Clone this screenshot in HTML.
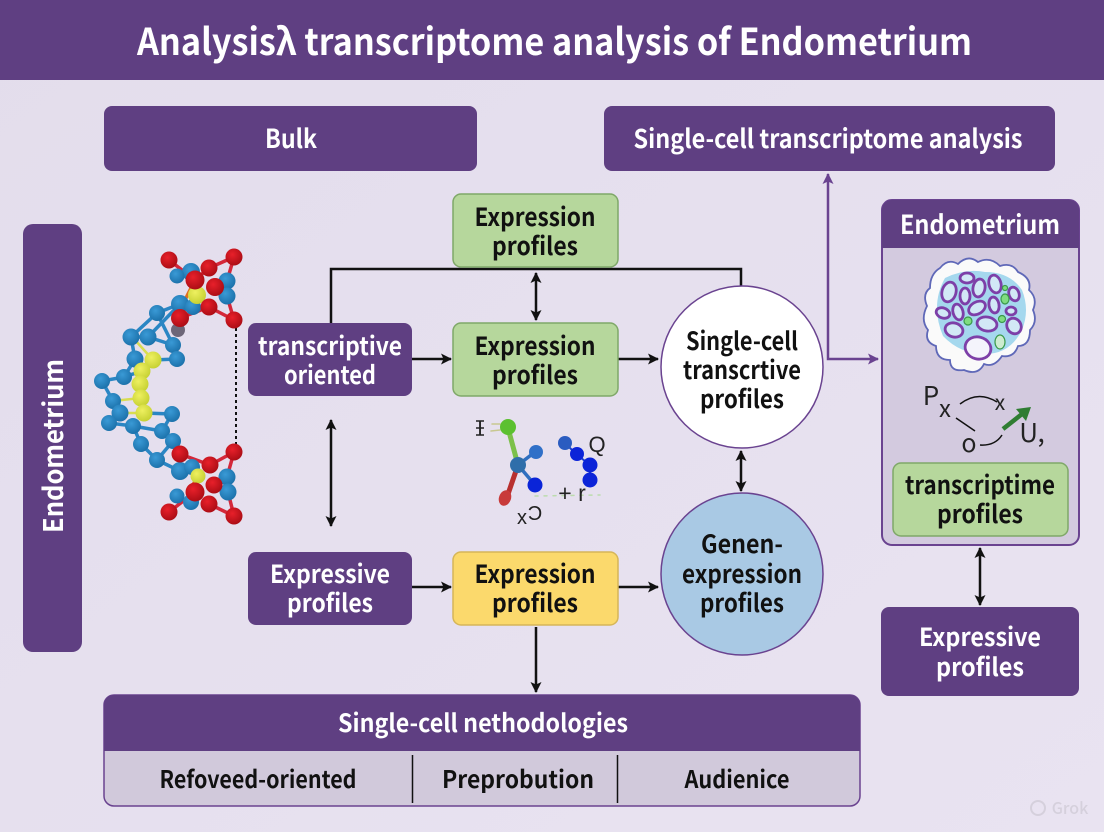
<!DOCTYPE html>
<html><head><meta charset="utf-8"><style>
html,body{margin:0;padding:0;background:#e6e0ef}
svg{display:block}
text{font-family:"Noto Sans CJK SC","Liberation Sans",sans-serif;text-anchor:middle}
.w{fill:#fff;font-weight:700}
.k{fill:#111;font-weight:700}
.p{fill:#5f3f82}
.l{fill:#222;font-family:"Liberation Sans",sans-serif}
</style></head><body>
<svg width="1104" height="832" viewBox="0 0 1104 832" xmlns="http://www.w3.org/2000/svg">
<defs>
<linearGradient id="bg" x1="0" y1="0" x2="1" y2="1"><stop offset="0" stop-color="#e3ddec"/><stop offset="1" stop-color="#e9e3f1"/></linearGradient>
<radialGradient id="r" cx=".4" cy=".35" r=".7"><stop offset="0" stop-color="#e8202a"/><stop offset="1" stop-color="#a80c14"/></radialGradient>
<radialGradient id="b" cx=".4" cy=".35" r=".7"><stop offset="0" stop-color="#3a9ad6"/><stop offset="1" stop-color="#1a6fa8"/></radialGradient>
<radialGradient id="y" cx=".4" cy=".35" r=".7"><stop offset="0" stop-color="#eef060"/><stop offset="1" stop-color="#c4cf30"/></radialGradient>
<marker id="a" markerWidth="14" markerHeight="14" refX="10" refY="6" orient="auto-start-reverse" markerUnits="userSpaceOnUse"><path d="M0 0.500L11 6L0 11.500L2.500 6Z" fill="#111"/></marker>
<marker id="pa" markerWidth="14" markerHeight="14" refX="10" refY="6" orient="auto-start-reverse" markerUnits="userSpaceOnUse"><path d="M0 0.500L11 6L0 11.500L2.500 6Z" fill="#6a4390"/></marker>
</defs>
<rect width="1104" height="832" fill="url(#bg)"/>
<rect width="1104" height="80" class="p"/>
<text x="554.5" y="55" class="w" font-size="37" textLength="835" lengthAdjust="spacingAndGlyphs">Analysisλ transcriptome analysis of Endometrium</text>

<rect x="104" y="106" width="373" height="65" rx="8" class="p"/>
<text x="291" y="148" class="w" font-size="26" textLength="52" lengthAdjust="spacingAndGlyphs">Bulk</text>
<rect x="604" y="106" width="451" height="65" rx="8" class="p"/>
<text x="828" y="148" class="w" font-size="26" textLength="389" lengthAdjust="spacingAndGlyphs">Single-cell transcriptome analysis</text>

<rect x="23" y="224" width="59" height="428" rx="10" class="p"/>
<text transform="translate(63,446) rotate(-90)" class="w" font-size="27" textLength="174" lengthAdjust="spacingAndGlyphs">Endometrium</text>

<!-- molecule bonds -->
<g fill="none" stroke-linecap="round">
<path d="M169 260L195 280M234 257L209 268M209 307L234 320M195 280L209 268M234 257L227 281L227 296L234 320M180 318L209 307M215 287L227 296" stroke="#d4283a" stroke-width="3.500"/>
<path d="M234 452L210 465M209 504L234 516M169 512L195 492M180 454L210 465M214 485L228 492M234 452L227 477L228 492L234 516" stroke="#d4283a" stroke-width="3.500"/>
<path d="M180 304L157 313L131 337L148 337L173 345L177 359L153 360M131 337L135 359L124 377L102 381L113 401L120 413L109 423L133 426L141 444L157 460L180 471M172 414L144 413M133 426L162 431L173 441L157 460M162 431L172 414M157 313L173 345M148 337L180 304M124 377L142 371" stroke="#2a86c4" stroke-width="3.500"/>
<path d="M135 340L153 360M113 401L141 398M120 413L144 413" stroke="#d8dc50" stroke-width="2.500"/>
<path d="M195 280L186 298M198 476L190 490" stroke="#e07020" stroke-width="3.500"/>
<path d="M236 322V446" stroke="#111" stroke-width="2" stroke-dasharray="3 3" stroke-linecap="butt"/>
</g>
<g fill="url(#b)">
<circle cx="191" cy="272" r="9"/><circle cx="177" cy="276" r="7.500"/><circle cx="227" cy="281" r="8.500"/><circle cx="227" cy="296" r="8.500"/><circle cx="180" cy="304" r="9"/><circle cx="193" cy="307" r="8"/><circle cx="157" cy="313" r="8"/><circle cx="131" cy="337" r="8.500"/><circle cx="148" cy="337" r="8.500"/><circle cx="173" cy="345" r="8"/><circle cx="177" cy="359" r="8"/><circle cx="135" cy="359" r="8.500"/><circle cx="124" cy="377" r="8"/><circle cx="102" cy="381" r="8"/><circle cx="113" cy="401" r="8"/><circle cx="120" cy="413" r="8.500"/><circle cx="109" cy="423" r="8"/><circle cx="133" cy="426" r="8"/><circle cx="172" cy="414" r="8"/><circle cx="162" cy="431" r="8"/><circle cx="173" cy="441" r="8"/><circle cx="141" cy="444" r="8"/><circle cx="157" cy="460" r="8"/>
<circle cx="180" cy="471" r="9"/><circle cx="192" cy="467" r="8"/><circle cx="227" cy="477" r="8.500"/><circle cx="228" cy="492" r="8.500"/><circle cx="177" cy="496" r="7.500"/><circle cx="191" cy="502" r="8"/>
</g>
<circle cx="178" cy="330" r="7" fill="#6d6678"/>
<g fill="url(#y)">
<circle cx="153" cy="360" r="8.500"/><circle cx="142" cy="371" r="8.500"/><circle cx="140" cy="384" r="8.500"/><circle cx="141" cy="398" r="8.500"/><circle cx="144" cy="413" r="8.500"/><circle cx="197" cy="295" r="9"/><circle cx="198" cy="476" r="7.500"/>
</g>
<g fill="url(#r)">
<circle cx="169" cy="260" r="8.500"/><circle cx="234" cy="257" r="8.500"/><circle cx="209" cy="268" r="8.500"/><circle cx="195" cy="280" r="9.500"/><circle cx="215" cy="287" r="9"/><circle cx="209" cy="307" r="8.500"/><circle cx="234" cy="320" r="8.500"/><circle cx="180" cy="318" r="9"/>
<circle cx="234" cy="452" r="8.500"/><circle cx="210" cy="465" r="8.500"/><circle cx="180" cy="454" r="8.500"/><circle cx="214" cy="485" r="8.500"/><circle cx="195" cy="492" r="9.500"/><circle cx="209" cy="504" r="8.500"/><circle cx="169" cy="512" r="8.500"/><circle cx="234" cy="516" r="8.500"/>
</g>

<!-- connectors -->
<g fill="none" stroke="#111" stroke-width="2.500">
<path d="M331 323V269H741V286"/>
<path d="M536 273V320" marker-start="url(#a)" marker-end="url(#a)"/>
<path d="M412 359H451" marker-end="url(#a)"/>
<path d="M618 359H658" marker-end="url(#a)"/>
<path d="M331 420V526" marker-start="url(#a)" marker-end="url(#a)"/>
<path d="M412 587H451" marker-end="url(#a)"/>
<path d="M618 587H658" marker-end="url(#a)"/>
<path d="M741 451V491" marker-start="url(#a)" marker-end="url(#a)"/>
<path d="M536 627V692" marker-end="url(#a)"/>
<path d="M980 548V605" marker-start="url(#a)" marker-end="url(#a)"/>
</g>
<path d="M828 174V359H878" fill="none" stroke="#6a4390" stroke-width="2.500" marker-start="url(#pa)" marker-end="url(#pa)"/>

<!-- nodes -->
<g stroke="#7fa868" stroke-width="1.500" fill="#b6d79c">
<rect x="453" y="194" width="165" height="73" rx="8"/>
<rect x="453" y="323" width="165" height="73" rx="8"/>
</g>
<rect x="453" y="552" width="165" height="73" rx="8" fill="#fbd96c" stroke="#d6b658" stroke-width="1.500"/>
<rect x="248" y="323" width="164" height="73" rx="8" class="p"/>
<rect x="248" y="552" width="164" height="73" rx="8" class="p"/>
<g class="k" font-size="25">
<text x="535" y="226" textLength="121" lengthAdjust="spacingAndGlyphs">Expression</text><text x="535" y="255" textLength="86" lengthAdjust="spacingAndGlyphs">profiles</text>
<text x="535" y="355" textLength="121" lengthAdjust="spacingAndGlyphs">Expression</text><text x="535" y="384" textLength="86" lengthAdjust="spacingAndGlyphs">profiles</text>
<text x="535" y="583" textLength="121" lengthAdjust="spacingAndGlyphs">Expression</text><text x="535" y="612" textLength="86" lengthAdjust="spacingAndGlyphs">profiles</text>
</g>
<g class="w" font-size="25">
<text x="330" y="355" textLength="144" lengthAdjust="spacingAndGlyphs">transcriptive</text><text x="330" y="384" textLength="92" lengthAdjust="spacingAndGlyphs">oriented</text>
<text x="330" y="583" textLength="120" lengthAdjust="spacingAndGlyphs">Expressive</text><text x="330" y="612" textLength="86" lengthAdjust="spacingAndGlyphs">profiles</text>
</g>
<circle cx="742" cy="367" r="81" fill="#fff" stroke="#6a4390" stroke-width="1.500"/>
<circle cx="742" cy="574" r="81" fill="#a9c9e4" stroke="#6a4390" stroke-width="1.500"/>
<g class="k" font-size="25">
<text x="742" y="350" textLength="112" lengthAdjust="spacingAndGlyphs">Single-cell</text><text x="742" y="379" textLength="118" lengthAdjust="spacingAndGlyphs">transcrtive</text><text x="742" y="408" textLength="84" lengthAdjust="spacingAndGlyphs">profiles</text>
<text x="742" y="553" textLength="82" lengthAdjust="spacingAndGlyphs">Genen-</text><text x="742" y="583" textLength="120" lengthAdjust="spacingAndGlyphs">expression</text><text x="742" y="612" textLength="84" lengthAdjust="spacingAndGlyphs">profiles</text>
</g>

<!-- center molecule -->
<g fill="none" stroke-linecap="round">
<path d="M508 428L518 465" stroke="#7cc04a" stroke-width="5"/>
<path d="M518 465L507 497" stroke="#b8302f" stroke-width="5"/>
<path d="M518 465L535 452M518 465L535 485" stroke="#2f6fc0" stroke-width="3.500"/>
<path d="M565 443L576 454L590 465L590 480" stroke="#1a3fd0" stroke-width="2"/>
<path d="M500 424H492M500 430L491 431" stroke="#c8c890" stroke-width="1.500"/>
<path d="M535 496L600 495" stroke="#bcdcae" stroke-width="1.500" stroke-dasharray="3 6"/>
</g>
<circle cx="508" cy="427" r="8" fill="#5cc030"/>
<circle cx="518" cy="465" r="8" fill="#2f6eaa"/>
<circle cx="536" cy="452" r="7" fill="#3070c8"/>
<circle cx="535" cy="485" r="7.500" fill="#0a24d8"/>
<ellipse cx="505" cy="498" rx="6" ry="8" transform="rotate(20 505 498)" fill="#c83a3a"/>
<circle cx="565" cy="443" r="7" fill="#2b5cc0"/><circle cx="577" cy="454" r="7" fill="#0c24d8"/><circle cx="590" cy="465" r="7.500" fill="#0c24d8"/><circle cx="590" cy="480" r="7.500" fill="#0c24d8"/>
<text x="480" y="435" class="l" font-size="20">I</text>
<path d="M476 421H484M476 435H484M476 428H484" stroke="#222" stroke-width="1.500"/>
<text x="597" y="452" class="l" font-size="22">Q</text>
<text x="572" y="501" class="l" font-size="23">+ r</text>
<text x="522" y="524" class="l" font-size="20">x</text>
<text x="535" y="520" class="l" font-size="20">Ɔ</text>

<!-- right panel -->
<rect x="882" y="200" width="197" height="345" rx="10" fill="#d3cadf" stroke="#6a4390" stroke-width="2"/>
<path d="M882 248V210a10 10 0 0 1 10-10h177a10 10 0 0 1 10 10v38Z" class="p"/>
<text x="980" y="234" class="w" font-size="26" textLength="160" lengthAdjust="spacingAndGlyphs">Endometrium</text>

<!-- tissue -->
<path d="M940 268Q948 258 958 264Q968 254 978 262Q990 256 1000 266Q1012 262 1018 272Q1032 278 1029 290Q1038 298 1033 310Q1038 322 1030 330Q1030 346 1018 346Q1014 358 1002 356Q994 368 984 364Q978 376 964 370Q950 372 950 360Q936 360 936 346Q924 342 928 330Q920 320 927 306Q922 294 930 288Q930 274 940 268Z" fill="#fafafa" stroke="#5f68b8" stroke-width="1.800"/>
<path d="M945 278Q965 268 985 272Q1010 272 1022 290Q1030 310 1022 330Q1010 354 985 354Q960 354 943 336Q930 305 945 278Z" fill="#a5d8ee"/>
<g fill="#d2e8f6" stroke="#7d3fa8" stroke-width="2.800">
<ellipse cx="967" cy="278" rx="7" ry="5"/>
<ellipse cx="949" cy="292" rx="7" ry="10" transform="rotate(15 949 292)"/>
<ellipse cx="965" cy="296" rx="5" ry="8"/>
<ellipse cx="979" cy="288" rx="6" ry="9" transform="rotate(10 979 288)"/>
<ellipse cx="995" cy="284" rx="6" ry="9" transform="rotate(-15 995 284)"/>
<ellipse cx="1014" cy="294" rx="5" ry="7" transform="rotate(-20 1014 294)"/>
<ellipse cx="943" cy="313" rx="7" ry="5" transform="rotate(20 943 313)"/>
<ellipse cx="958" cy="312" rx="5" ry="8" transform="rotate(-15 958 312)"/>
<ellipse cx="977" cy="308" rx="9" ry="6" transform="rotate(-30 977 308)"/>
<ellipse cx="994" cy="305" rx="5" ry="8" transform="rotate(-10 994 305)"/>
<ellipse cx="1011" cy="311" rx="5" ry="4"/>
<ellipse cx="954" cy="330" rx="9" ry="7" transform="rotate(15 954 330)"/>
<ellipse cx="987" cy="324" rx="10" ry="7" transform="rotate(10 987 324)"/>
<ellipse cx="1014" cy="326" rx="7" ry="8" transform="rotate(-30 1014 326)"/>
<ellipse cx="978" cy="348" rx="13" ry="11" transform="rotate(15 978 348)" fill="#f4f4fc"/>
</g>
<g fill="#7fdc80" stroke="#3a9a4a" stroke-width="1.200">
<circle cx="1005" cy="288" r="2.500"/><ellipse cx="1005" cy="299" rx="4" ry="5"/><circle cx="968" cy="321" r="4"/><circle cx="1002" cy="319" r="3.500"/><ellipse cx="1000" cy="342" rx="5" ry="7" fill="#cdeccf"/>
</g>

<!-- small pathway -->
<g class="l">
<text x="931" y="405" font-size="26">P</text>
<text x="945" y="417" font-size="24">x</text>
<text x="1000" y="410" font-size="21">x</text>
<text x="969" y="452" font-size="25">o</text>
<text x="1032" y="442" font-size="26">U,</text>
</g>
<g fill="none" stroke="#111" stroke-width="1.500">
<path d="M960 404Q978 390 997 402"/>
<path d="M956 418L975 431"/>
<path d="M980 445Q995 446 1002 435"/>
</g>
<path d="M1003 429L1022 414" stroke="#2f7d32" stroke-width="4.500" fill="none"/>
<path d="M1031 407L1026 421L1016 409Z" fill="#2f7d32"/>

<rect x="893" y="463" width="175" height="73" rx="8" fill="#b6d79c" stroke="#7fa868" stroke-width="1.500"/>
<text x="980" y="494" class="k" font-size="25" textLength="150" lengthAdjust="spacingAndGlyphs">transcriptime</text>
<text x="980" y="523" class="k" font-size="25" textLength="86" lengthAdjust="spacingAndGlyphs">profiles</text>

<rect x="881" y="607" width="198" height="89" rx="8" class="p"/>
<text x="980" y="646" class="w" font-size="25" textLength="122" lengthAdjust="spacingAndGlyphs">Expressive</text>
<text x="980" y="676" class="w" font-size="25" textLength="88" lengthAdjust="spacingAndGlyphs">profiles</text>

<!-- bottom table -->
<rect x="104" y="695" width="756" height="111" rx="10" fill="#d1c9db" stroke="#6a4390" stroke-width="1.500"/>
<path d="M104 751V705a10 10 0 0 1 10-10h736a10 10 0 0 1 10 10v46Z" class="p"/>
<text x="483" y="732" class="w" font-size="25" textLength="290" lengthAdjust="spacingAndGlyphs">Single-cell nethodologies</text>
<path d="M412.500 755V803M617.500 755V803" stroke="#111" stroke-width="1.500"/>
<text x="258" y="788" class="k" font-size="24" textLength="197" lengthAdjust="spacingAndGlyphs">Refoveed-oriented</text>
<text x="518" y="788" class="k" font-size="24" textLength="152" lengthAdjust="spacingAndGlyphs">Preprobution</text>
<text x="737" y="788" class="k" font-size="24" textLength="105" lengthAdjust="spacingAndGlyphs">Audienice</text>

<circle cx="1038" cy="808" r="7" fill="none" stroke="#d5d0dc" stroke-width="2"/>
<text x="1070" y="814" font-size="16" fill="#d5d0dc" font-weight="500">Grok</text>
</svg>
</body></html>
